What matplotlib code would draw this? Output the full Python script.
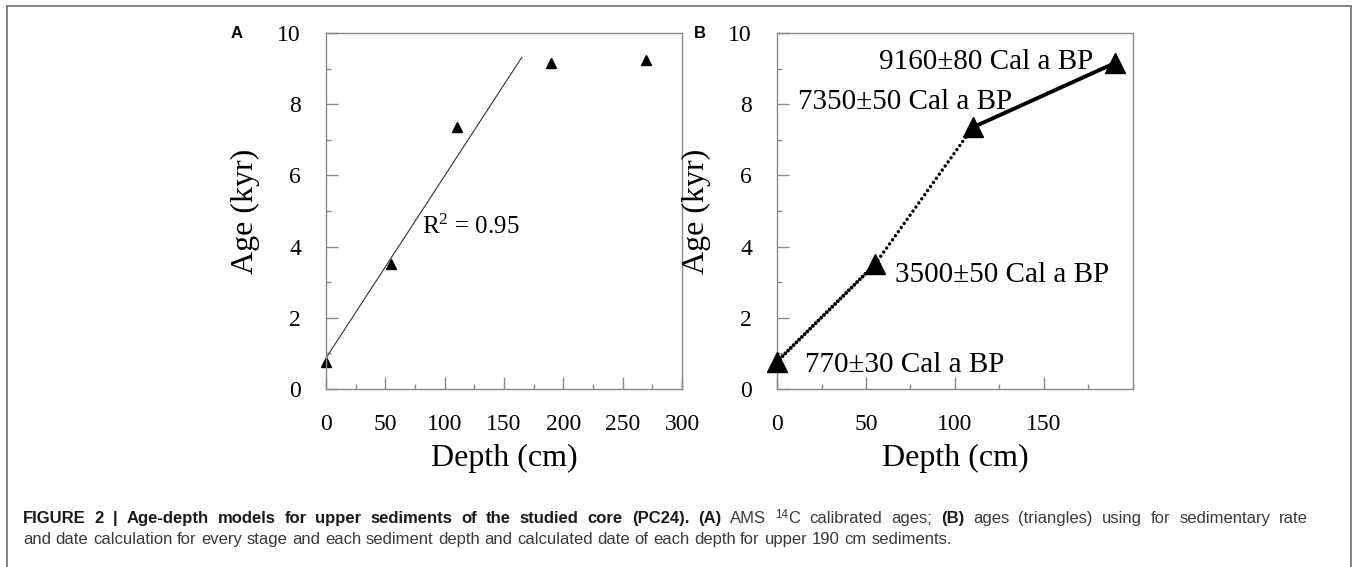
import matplotlib
matplotlib.use('Agg')
import matplotlib.pyplot as plt
from matplotlib.lines import Line2D
from matplotlib.ticker import MultipleLocator

# ---------------- data ----------------
a_depth = [0, 55, 110, 190, 270]
a_age = [0.77, 3.50, 7.35, 9.16, 9.25]
fit_slope = 0.0512
fit_intercept = 0.87
fit_depth_range = [0, 165]
r2_text = 'R$^{2}$ = 0.95'

b_depth = [0, 55, 110, 190]
b_age = [0.77, 3.50, 7.35, 9.16]
b_labels = ['770±30 Cal a BP', '3500±50 Cal a BP', '7350±50 Cal a BP', '9160±80 Cal a BP']

a_xticks = [0, 50, 100, 150, 200, 250, 300]
b_xticks = [0, 50, 100, 150]
yticks = [0, 2, 4, 6, 8, 10]

# ---------------- layout / style ----------------
plt.rcParams['font.family'] = ['Liberation Serif', 'DejaVu Serif']
plt.rcParams['mathtext.fontset'] = 'custom'
plt.rcParams['mathtext.rm'] = 'Liberation Serif'
plt.rcParams['mathtext.it'] = 'Liberation Serif:italic'

W, H = 1357, 567
fig = plt.figure(figsize=(W / 100, H / 100), dpi=100)

def px_axes(l, t, r, b):
    return [l / W, 1 - b / H, (r - l) / W, (b - t) / H]

spine_col = '#8a8a8a'
b_label_xy = [(15.8, 0.68), (66.5, 3.2), (11.8, 8.06), (57.3, 9.19)]
b_styles = [dict(ls=(0, (0.001, 1.0)), lw=2.8, dash_capstyle='round'),
            dict(ls=(0, (0.001, 1.45)), lw=2.5, dash_capstyle='round'),
            dict(ls='-', lw=2.8, solid_capstyle='round')]

def style_axes(ax, xmax, xticks):
    ax.set_xlim(0, xmax)
    ax.set_ylim(0, 10)
    ax.set_xticks(xticks)
    ax.set_yticks(yticks)
    ax.xaxis.set_minor_locator(MultipleLocator(25))
    ax.yaxis.set_minor_locator(MultipleLocator(1))
    ax.tick_params(which='both', direction='in', color=spine_col, width=1.0,
                   top=False, right=False, labelsize=17, pad=18)
    ax.tick_params(which='major', length=8.5)
    ax.tick_params(which='minor', length=3.6)
    for s in ax.spines.values():
        s.set_color(spine_col)
        s.set_linewidth(1.0)
    ax.set_xlabel('Depth (cm)', fontsize=23)
    ax.set_ylabel('Age (kyr)', fontsize=23)
    ax.xaxis.set_label_coords(0.5, -0.155)
    ax.yaxis.set_label_coords(-0.185, 0.5)

# Panel A
axA = fig.add_axes(px_axes(326, 33, 682, 389))
style_axes(axA, 300, a_xticks)
axA.plot(a_depth, a_age, ls='none', marker='^', ms=7.5, color='black', clip_on=False)
fx = fit_depth_range
axA.plot(fx, [fit_intercept + fit_slope * v for v in fx], color='#333333', lw=0.8)
axA.text(81, 4.34, r2_text, fontsize=18, ha='left', va='baseline')

# Panel B
axB = fig.add_axes(px_axes(777, 33, 1133, 389))
style_axes(axB, 200, b_xticks)
for i in range(len(b_depth) - 1):
    axB.plot(b_depth[i:i + 2], b_age[i:i + 2], color='black', **b_styles[i])
axB.plot(b_depth, b_age, ls='none', marker='^', ms=14, color='black', clip_on=False, zorder=5)
for lab, (tx, ty) in zip(b_labels, b_label_xy):
    axB.text(tx, ty, lab, fontsize=21, ha='left', va='center')

# Panel letters
fig.text(237 / W, 1 - 33 / H, 'A', family='Liberation Sans', weight='bold', fontsize=12,
         ha='center', va='center')
fig.text(700 / W, 1 - 33 / H, 'B', family='Liberation Sans', weight='bold', fontsize=12,
         ha='center', va='center')

# Frame
bc = '#6e6e6e'
fig.add_artist(Line2D([7 / W, 7 / W], [0, 1 - 6 / H], color=bc, lw=1.2))
fig.add_artist(Line2D([1351 / W, 1351 / W], [0, 1 - 6 / H], color=bc, lw=1.2))
fig.add_artist(Line2D([7 / W, 1351 / W], [1 - 6 / H, 1 - 6 / H], color=bc, lw=1.2))

# Caption
renderer = fig.canvas.get_renderer()
sans = 'Liberation Sans'

def width_px(s, weight='normal', fs=10.0):
    t = fig.text(0, 0, s, family=sans, weight=weight, fontsize=fs)
    w = t.get_window_extent(renderer).width
    t.remove()
    return w

cap_fs = 12.0
space_w = width_px('x x', fs=cap_fs) - width_px('xx', fs=cap_fs)

def tokens(pieces):
    out = []
    for txt, weight, sup in pieces:
        parts = txt.split(' ')
        for k, p in enumerate(parts):
            if k > 0:
                out.append((' ', weight, sup))
            if p:
                out.append((p, weight, sup))
    return out

def write_line(pieces, x0, y_base, x_end=None):
    toks = tokens(pieces)
    widths = []
    for txt, weight, sup in toks:
        if txt == ' ':
            widths.append(space_w)
        else:
            fs = cap_fs * 0.7 if sup else cap_fs
            widths.append(width_px(txt, weight, fs))
    n_sp = sum(1 for t in toks if t[0] == ' ')
    extra = 0.0
    if x_end is not None and n_sp:
        extra = max(0.0, (x_end - x0 - sum(widths)) / n_sp)
    x = x0
    for (txt, weight, sup), w in zip(toks, widths):
        if txt == ' ':
            x += w + extra
            continue
        fs = cap_fs * 0.7 if sup else cap_fs
        yb = y_base + (5.5 / H if sup else 0)
        col = '#1a1a1a' if weight == 'bold' else '#3a3a3a'
        fig.text(x / W, yb, txt, family=sans, weight=weight, fontsize=fs,
                 color=col, ha='left', va='baseline')
        x += w

line1 = [('FIGURE 2 | Age-depth models for upper sediments of the studied core (PC24).', 'bold', False),
         (' ', 'normal', False),
         ('(A)', 'bold', False),
         (' AMS ', 'normal', False),
         ('14', 'normal', True),
         ('C calibrated ages; ', 'normal', False),
         ('(B)', 'bold', False),
         (' ages (triangles) using for sedimentary rate', 'normal', False)]
line2 = [('and date calculation for every stage and each sediment depth and calculated date of each depth for upper 190 cm sediments.', 'normal', False)]
write_line(line1, 23, 1 - 523 / H, x_end=1308)
write_line(line2, 23, 1 - 544 / H)

fig.savefig('out.png', dpi=100)
